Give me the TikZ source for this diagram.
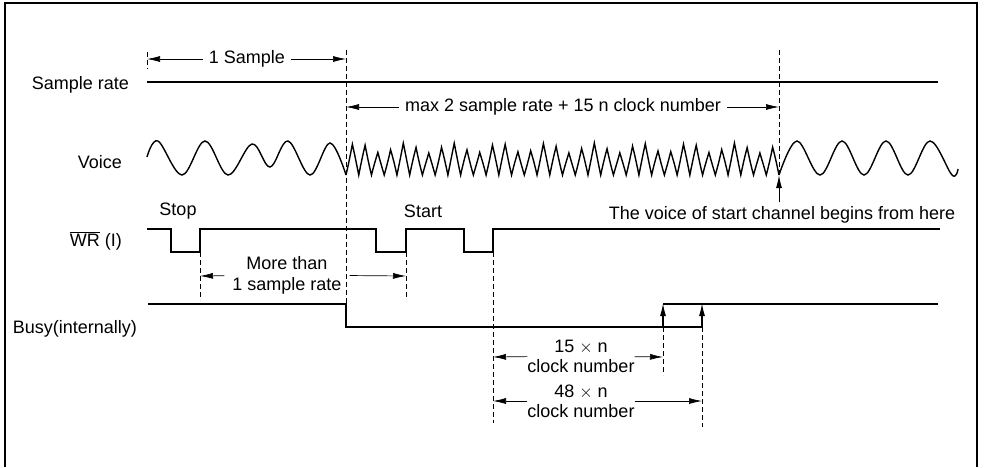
\documentclass[tikz,border=0pt]{standalone}
\usepackage{fontspec}
\setmainfont{Liberation Sans}
\usetikzlibrary{arrows.meta}

\begin{document}
\begin{tikzpicture}[x=1pt, y=-1pt,
    lbl/.style={font=\fontsize{18}{20}\selectfont, inner sep=0pt},
    sig/.style={line width=1.4pt},
    guide/.style={line width=0.8pt, dash pattern=on 5pt off 3pt},
    dim/.style={line width=0.7pt, -{Latex[length=13pt,width=6pt]}},
    gap/.style={lbl, inner xsep=6pt, align=center}]
        \useasboundingbox (0,0) rectangle (985,467);
        \draw[line width=1.2pt] (5,467) -- (5,3) -- (977,3) -- (977,467);

        \node[lbl, anchor=east] (rateLbl) at (129,85) {Sample rate};
        \node[lbl, anchor=east] (voiceLbl) at (122,162) {Voice};
        \node[lbl, anchor=east] (wrLbl) at (122,241) {$\overline{\hbox{WR}}$ (I)};
        \node[lbl, anchor=east] (busyLbl) at (137,329) {Busy(internally)};

        \node[lbl] (stopLbl) at (178,211) {Stop};
        \node[lbl] (startLbl) at (423,211) {Start};
        \node[lbl] (hereLbl) at (782,215) {The voice of start channel begins from here};

        \coordinate (sampleL) at (147,59);
        \coordinate (sampleR) at (346,59);
        \coordinate (maxL) at (346,107);
        \coordinate (maxR) at (779,107);
        \coordinate (moreL) at (200,276);
        \coordinate (moreR) at (406,276);
        \coordinate (clkAL) at (493,357);
        \coordinate (clkAR) at (663,357);
        \coordinate (clkBL) at (493,401);
        \coordinate (clkBR) at (702,401);
        \coordinate (voiceStart) at (779,175);

        \node[gap] (sampleTxt) at (247,59) {1 Sample};
        \node[gap] (maxTxt) at (563,107) {max 2 sample rate + 15 n clock number};
        \node[gap, inner xsep=8pt] (moreTxt) at (287,275) {More than\\[1pt]1 sample rate};
        \node[gap, inner xsep=0pt] (clkATxt) at (581,356) {15 $\times$ n\\clock number};
        \node[gap, inner xsep=0pt] (clkBTxt) at (581,401) {48 $\times$ n\\clock number};

        % guide lines
        \draw[guide] (147,52) -- (147,69);
        \draw[guide] (346,50) -- (346,304);
        \draw[guide] (779,50) -- (779,172);
        \draw[guide] (200,252) -- (200,300);
        \draw[guide] (406,252) -- (406,300);
        \draw[guide] (493,252) -- (493,423);
        \draw[guide] (663,327) -- (663,375);
        \draw[guide] (702,327) -- (702,427);

        % signals
        \draw[sig] (147,82) -- (938,82);
        \draw[sig] plot[smooth, tension=0.6] coordinates {(147,157) (158,141) (182,175) (205,141) (228,175) (252,144) (270,167) (288,141) (310,175) (330,143) (346,175)};
        \draw[sig] plot[domain=0:34, samples=273, variable=\t] ({346+12.735*\t}, {175-(27+5*sin(97*\t))*(1-asin(cos(360*\t))/90)/2});
        \draw[sig] plot[smooth, tension=0.6] coordinates {(779,175) (797,141) (820,175) (842,141) (864,175) (886,141) (908,175) (930,141) (952,175) (958,169)};
        \draw[sig] (147,229) -- (171,229) -- (171,252) -- (200,252) -- (200,229) -- (376,229) -- (376,252) -- (406,252) -- (406,229) -- (464,229) -- (464,252) -- (493,252) -- (493,229) -- (940,229);
        \draw[sig] (148,304) -- (346,304) -- (346,327) -- (702,327);
        \draw[sig] (663,304) -- (938,304);
        \draw[sig, -{Latex[length=13pt,width=6pt]}] (663,327) -- (663,303);
        \draw[sig, -{Latex[length=13pt,width=6pt]}] (702,327) -- (702,303);

        % dimensions
        \draw[dim] (sampleTxt) -- (sampleL);
        \draw[dim] (sampleTxt) -- (sampleR);
        \draw[dim] (maxTxt) -- (maxL);
        \draw[dim] (maxTxt) -- (maxR);
        \draw[dim] (moreTxt) -- (moreL);
        \draw[dim] (moreTxt) -- (moreR);
        \draw[dim] (clkATxt) -- (clkAL);
        \draw[dim] (clkATxt) -- (clkAR);
        \draw[dim] (clkBTxt) -- (clkBL);
        \draw[dim] (clkBTxt) -- (clkBR);
        \draw[dim, line width=1pt] (hereLbl.north -| voiceStart) ++(0,-4) -- (voiceStart);
      \end{tikzpicture}
\end{document}
